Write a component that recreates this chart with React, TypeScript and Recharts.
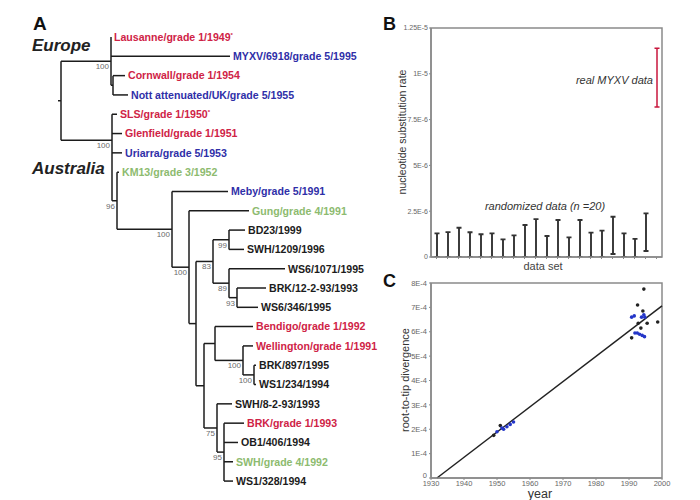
import React from "react";
import {
  ComposedChart,
  Scatter,
  Bar,
  XAxis,
  YAxis,
  ReferenceLine,
  ReferenceArea,
} from "recharts";

const FONT = '"Liberation Sans", Arial, Helvetica, sans-serif';
const RED = "#cf2346";
const BLUE = "#2f2fa8";
const GREEN = "#8dbb6f";
const INK = "#1c1c1c";
const FRAME = "#8a8a8a";
const TICK_TXT = "#666";

// ---------- panel A: tree ----------
const leafLabels = [
  "Lausanne/grade 1/1949",
  "MYXV/6918/grade 5/1995",
  "Cornwall/grade 1/1954",
  "Nott attenuated/UK/grade 5/1955",
  "SLS/grade 1/1950",
  "Glenfield/grade 1/1951",
  "Uriarra/grade 5/1953",
  "KM13/grade 3/1952",
  "Meby/grade 5/1991",
  "Gung/grade 4/1991",
  "BD23/1999",
  "SWH/1209/1996",
  "WS6/1071/1995",
  "BRK/12-2-93/1993",
  "WS6/346/1995",
  "Bendigo/grade 1/1992",
  "Wellington/grade 1/1991",
  "BRK/897/1995",
  "WS1/234/1994",
  "SWH/8-2-93/1993",
  "BRK/grade 1/1993",
  "OB1/406/1994",
  "SWH/grade 4/1992",
  "WS1/328/1994",
];
const leafColors = [
  RED, BLUE, RED, BLUE, RED, RED, BLUE, GREEN, BLUE, GREEN, INK, INK,
  INK, INK, INK, RED, RED, INK, INK, INK, RED, INK, GREEN, INK,
];
const leafStarred = [0, 4];
const leafDepth = [
  111, 230, 125, 128, 117, 122, 122, 119, 228, 249, 245, 244,
  285, 266, 258, 253, 253, 256, 256, 232, 244, 238, 233, 233,
];

type Clade = {
  id: string;
  depth: number;
  kids: (number | string)[];
  boot?: string;
  y?: number;
  stem?: number;
};

const clades: Clade[] = [
  { id: "root", depth: 61, kids: ["EU", "AU"], stem: 58 },
  { id: "EU", depth: 111, kids: [0, 1, "E2"], boot: "100" },
  { id: "E2", depth: 113, kids: [2, 3] },
  { id: "AU", depth: 112, kids: [4, 5, 6, "K"], boot: "100", y: 5.35 },
  { id: "K", depth: 117, kids: [7, "M"], boot: "96" },
  { id: "M", depth: 172, kids: [8, "G"], boot: "100" },
  { id: "G", depth: 189, kids: [9, "N"], boot: "100" },
  { id: "N", depth: 196, kids: ["P", "Q"] },
  { id: "P", depth: 213, kids: ["BD", "W"], boot: "83" },
  { id: "BD", depth: 229, kids: [10, 11], boot: "99" },
  { id: "W", depth: 229, kids: [12, "X"], boot: "89" },
  { id: "X", depth: 237, kids: [13, 14], boot: "93" },
  { id: "Q", depth: 204, kids: ["B", "S"] },
  { id: "B", depth: 215, kids: [15, "Wl"] },
  { id: "Wl", depth: 243, kids: [16, "BW"], boot: "100" },
  { id: "BW", depth: 254, kids: [17, 18], boot: "100" },
  { id: "S", depth: 217, kids: [19, "O"], boot: "75" },
  { id: "O", depth: 224, kids: [20, 21, 22, 23], boot: "95" },
];

const cladeById: Record<string, Clade> = {};
clades.forEach((c) => (cladeById[c.id] = c));

function nodeY(k: number | string): number {
  if (typeof k === "number") return k;
  const c = cladeById[k];
  if (c.y !== undefined) return c.y;
  return (nodeY(c.kids[0]) + nodeY(c.kids[c.kids.length - 1])) / 2;
}
function nodeX(k: number | string): number {
  return typeof k === "number" ? leafDepth[k] : cladeById[k].depth;
}

type Seg = [{ x: number; y: number }, { x: number; y: number }];
const treeSegments: Seg[] = [];
clades.forEach((c) => {
  const y0 = nodeY(c.kids[0]);
  const y1 = nodeY(c.kids[c.kids.length - 1]);
  treeSegments.push([{ x: c.depth, y: y0 }, { x: c.depth, y: y1 }]);
  c.kids.forEach((k) => {
    const ky = nodeY(k);
    treeSegments.push([{ x: c.depth, y: ky }, { x: nodeX(k), y: ky }]);
  });
  if (c.stem !== undefined) {
    const cy = nodeY(c.id);
    treeSegments.push([{ x: c.stem, y: cy }, { x: c.depth, y: cy }]);
  }
});

const leafPoints = leafLabels.map((label, i) => ({
  x: leafDepth[i],
  y: i,
  label,
  color: leafColors[i],
  star: leafStarred.includes(i),
}));
const bootPoints = clades
  .filter((c) => c.boot)
  .map((c) => ({ x: c.depth, y: nodeY(c.id), boot: c.boot }));

const LeafLabel = (p: any) => (
  <text
    x={p.cx + 3}
    y={p.cy}
    dy="0.36em"
    fill={p.payload.color}
    fontSize={10.6}
    fontWeight="bold"
    fontFamily={FONT}
  >
    {p.payload.label}
    {p.payload.star && (
      <tspan dy={-4} fontSize={6}>
        *
      </tspan>
    )}
  </text>
);

const BootLabel = (p: any) => (
  <text
    x={p.cx - 2}
    y={p.cy + 8}
    textAnchor="end"
    fill="#6a6a6a"
    fontSize={8}
    fontFamily={FONT}
  >
    {p.payload.boot}
  </text>
);

// ---------- panel B: substitution rate ----------
const dataSets = [
  "1", "2", "3", "4", "5", "6", "7", "8", "9", "10", "11",
  "12", "13", "14", "15", "16", "17", "18", "19", "20", "real",
];
// units of 1E-6
const rateLow = [
  0, 0, 0, 0, 0, 0, 0, 0, 0, 0, 0, 0, 0, 0, 0, 0, 0.16, 0, 0, 0.33, 8.19,
];
const rateHigh = [
  1.29, 1.36, 1.6, 1.35, 1.24, 1.29, 0.96, 1.18, 1.75, 2.07, 1.15, 2.02,
  1.07, 2.02, 1.33, 1.44, 2.2, 1.29, 0.99, 2.38, 11.4,
];
const rateTicks = [0, 2.5, 5, 7.5, 10, 12.5];
const rateTickLabels = ["0", "2.5E-6", "5E-6", "7.5E-6", "1E-5", "1.25E-5"];

const rateData = dataSets.map((s, i) => ({
  set: s,
  range: [rateLow[i], rateHigh[i]],
  real: s === "real",
}));

const ErrorBarShape = (p: any) => {
  const cx = p.x + p.width / 2;
  const top = Math.min(p.y, p.y + p.height);
  const bot = Math.max(p.y, p.y + p.height);
  const c = p.payload.real ? "#c8163c" : "#333";
  return (
    <g stroke={c} strokeWidth={p.payload.real ? 1.5 : 1.9}>
      <line x1={cx} x2={cx} y1={top} y2={bot} />
      <line x1={cx - 2.5} x2={cx + 2.5} y1={top} y2={top} />
      <line x1={cx - 2.5} x2={cx + 2.5} y1={bot} y2={bot} />
    </g>
  );
};

// ---------- panel C: root-to-tip ----------
// divergence in units of 1E-4
const blackPoints = [
  { year: 1949, div: 1.75 },
  { year: 1951, div: 2.15 },
  { year: 1994.5, div: 7.75 },
  { year: 1992.6, div: 7.1 },
  { year: 1994.2, div: 6.85 },
  { year: 1998.7, div: 6.4 },
  { year: 1995.5, div: 6.35 },
  { year: 1992.8, div: 6.35 },
  { year: 1993.6, div: 6.15 },
  { year: 1990.8, div: 5.75 },
];
const bluePoints = [
  { year: 1950, div: 1.9 },
  { year: 1951.5, div: 2.05 },
  { year: 1952, div: 2.0 },
  { year: 1953, div: 2.1 },
  { year: 1954, div: 2.2 },
  { year: 1955, div: 2.3 },
  { year: 1990.8, div: 6.6 },
  { year: 1991.6, div: 6.65 },
  { year: 1993.8, div: 6.6 },
  { year: 1994.5, div: 6.7 },
  { year: 1994.8, div: 6.6 },
  { year: 1991.8, div: 5.95 },
  { year: 1992.5, div: 5.95 },
  { year: 1993.2, div: 5.9 },
  { year: 1994, div: 5.85 },
  { year: 1994.7, div: 5.8 },
];
const fitStart = { year: 1931.8, div: 0 };
const fitEnd = { year: 2000, div: 7.06 };
const yearTicks = [1930, 1940, 1950, 1960, 1970, 1980, 1990, 2000];
const divTicks = [0, 1, 2, 3, 4, 5, 6, 7, 8];

const dot = (color: string) => (p: any) =>
  <circle cx={p.cx} cy={p.cy} r={1.8} fill={color} />;

// y tick for panel C; the "0" sits a little higher so it clears "1930"
const DivTick = (p: any) => {
  const v = p.payload.value;
  return (
    <text
      x={p.x}
      y={p.y - (v === 0 ? 3 : 0)}
      dy="0.355em"
      textAnchor="end"
      fontSize={7.5}
      fill={TICK_TXT}
      fontFamily={FONT}
    >
      {v === 0 ? "0" : `${v}E-4`}
    </text>
  );
};

export default function App() {
  return (
    <div
      style={{
        position: "absolute",
        left: 0,
        top: 0,
        width: 700,
        height: 500,
        background: "#fff",
        fontFamily: FONT,
      }}
    >
      {/* A: tree */}
      <div style={{ position: "absolute", left: 0, top: 0 }}>
        <ComposedChart
          width={400}
          height={500}
          margin={{ top: 0, right: 0, bottom: 0, left: 0 }}
        >
          <XAxis type="number" dataKey="x" domain={[0, 400]} hide />
          <YAxis
            type="number"
            dataKey="y"
            domain={[-1.917, 23.98]}
            reversed
            hide
          />
          {treeSegments.map((s, i) => (
            <ReferenceLine
              key={i}
              segment={s}
              stroke={INK}
              strokeWidth={1.5}
              ifOverflow="visible"
            />
          ))}
          <Scatter
            data={leafPoints}
            shape={LeafLabel}
            isAnimationActive={false}
          />
          <Scatter
            data={bootPoints}
            shape={BootLabel}
            isAnimationActive={false}
          />
        </ComposedChart>
      </div>

      {/* B: rates */}
      <div style={{ position: "absolute", left: 360, top: 0 }}>
        <ComposedChart
          width={340}
          height={280}
          data={rateData}
          margin={{ top: 28, right: 38, bottom: 15, left: 41 }}
        >
          <XAxis
            dataKey="set"
            interval={0}
            height={8}
            tickFormatter={() => ""}
            tickSize={2}
            axisLine={{ stroke: FRAME, strokeWidth: 1.5 }}
            tickLine={{ stroke: FRAME }}
          />
          <YAxis
            type="number"
            width={30}
            domain={[0, 12.5]}
            ticks={rateTicks}
            allowDataOverflow
            tickFormatter={(v: number) => rateTickLabels[rateTicks.indexOf(v)]}
            tick={{ fontSize: 7, fill: TICK_TXT }}
            tickSize={2}
            tickMargin={1}
            axisLine={{ stroke: FRAME, strokeWidth: 1.5 }}
            tickLine={{ stroke: FRAME }}
          />
          <ReferenceArea
            y1={0}
            y2={12.5}
            fill="none"
            stroke={FRAME}
            strokeWidth={1.5}
            ifOverflow="visible"
          />
          <Bar
            dataKey="range"
            barSize={6}
            shape={ErrorBarShape}
            isAnimationActive={false}
          />
        </ComposedChart>
      </div>

      {/* C: root-to-tip */}
      <div style={{ position: "absolute", left: 360, top: 260 }}>
        <ComposedChart
          width={340}
          height={240}
          margin={{ top: 23, right: 38, bottom: 10, left: 41 }}
        >
          <XAxis
            type="number"
            dataKey="year"
            domain={[1930, 2000]}
            ticks={yearTicks}
            allowDataOverflow
            height={12}
            tick={{ fontSize: 7.5, fill: TICK_TXT }}
            tickSize={2}
            tickMargin={1}
            axisLine={{ stroke: FRAME, strokeWidth: 1.5 }}
            tickLine={{ stroke: FRAME }}
          />
          <YAxis
            type="number"
            dataKey="div"
            domain={[0, 8]}
            ticks={divTicks}
            allowDataOverflow
            width={30}
            tick={DivTick}
            tickSize={2}
            tickMargin={2}
            axisLine={{ stroke: FRAME, strokeWidth: 1.5 }}
            tickLine={{ stroke: FRAME }}
          />
          <ReferenceArea
            x1={1930}
            x2={2000}
            y1={0}
            y2={8}
            fill="none"
            stroke={FRAME}
            strokeWidth={1.5}
          />
          <ReferenceLine
            segment={[
              { x: fitStart.year, y: fitStart.div },
              { x: fitEnd.year, y: fitEnd.div },
            ]}
            stroke="#222"
            strokeWidth={1.5}
          />
          <Scatter
            data={blackPoints}
            shape={dot("#222")}
            isAnimationActive={false}
          />
          <Scatter
            data={bluePoints}
            shape={dot("#2436c8")}
            isAnimationActive={false}
          />
        </ComposedChart>
      </div>

      {/* titles and notes */}
      <svg
        width={700}
        height={500}
        style={{ position: "absolute", left: 0, top: 0, pointerEvents: "none" }}
        fontFamily={FONT}
      >
        <text x={33} y={30} fontSize={19} fontWeight="bold" fill="#111">
          A
        </text>
        <text x={32} y={51} fontSize={17} fontWeight="bold" fontStyle="italic" fill="#222">
          Europe
        </text>
        <text x={32} y={174} fontSize={17} fontWeight="bold" fontStyle="italic" fill="#222">
          Australia
        </text>
        <text x={383} y={30} fontSize={18} fontWeight="bold" fill="#111">
          B
        </text>
        <text x={383} y={287} fontSize={18} fontWeight="bold" fill="#111">
          C
        </text>
        <text
          transform="translate(406 132) rotate(-90)"
          textAnchor="middle"
          fontSize={10.5}
          fill="#333"
        >
          nucleotide substitution rate
        </text>
        <text x={543} y={270} textAnchor="middle" fontSize={11} fill="#444">
          data set
        </text>
        <text
          transform="translate(409 380) rotate(-90)"
          textAnchor="middle"
          fontSize={11}
          fill="#333"
        >
          root-to-tip divergence
        </text>
        <text x={540} y={498} textAnchor="middle" fontSize={12.5} fill="#333">
          year
        </text>
        <text x={653} y={84} textAnchor="end" fontSize={11} fontStyle="italic" fill="#333">
          real MYXV data
        </text>
        <text x={545} y={210} textAnchor="middle" fontSize={11} fontStyle="italic" fill="#333">
          randomized data (n =20)
        </text>
      </svg>
    </div>
  );
}
